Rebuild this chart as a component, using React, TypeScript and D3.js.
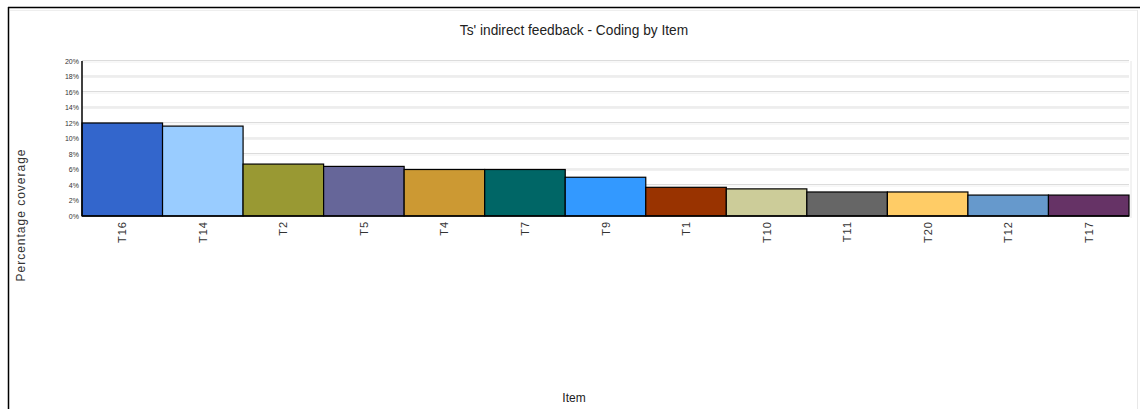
import React from "react";
import * as d3 from "d3";

const categories = ["T16", "T14", "T2", "T5", "T4", "T7", "T9", "T1", "T10", "T11", "T20", "T12", "T17"];
const values = [12.0, 11.6, 6.7, 6.4, 6.0, 6.0, 5.0, 3.7, 3.5, 3.1, 3.1, 2.7, 2.7];
const colors = ["#3366CC", "#99CCFF", "#999933", "#666699", "#CC9933", "#006666", "#3399FF", "#993300", "#CCCC99", "#666666", "#FFCC66", "#6699CC", "#663366"];
const yTicks = [0, 2, 4, 6, 8, 10, 12, 14, 16, 18, 20];

const W = 1140, H = 409;
const left = 82, right = 1129, top = 61, bottom = 216;

export default function App() {
  const x = d3.scaleBand<string>().domain(categories).range([left, right]).padding(0);
  const y = d3.scaleLinear().domain([0, 20]).range([bottom, top]);
  const font = "Arial, 'Liberation Sans', sans-serif";
  return (
    <svg width={W} height={H} style={{ position: "absolute", left: 0, top: 0, background: "#fff" }} fontFamily={font}>
      <line x1={8} x2={W} y1={7.5} y2={7.5} stroke="#000" strokeWidth={1.5} />
      <line x1={8.5} x2={8.5} y1={7} y2={H} stroke="#000" strokeWidth={1.5} />
      <line x1={1137.5} x2={1137.5} y1={10} y2={H} stroke="#e8e8e8" strokeWidth={1} />
      <line x1={10} x2={1137} y1={10.5} y2={10.5} stroke="#eeeeee" strokeWidth={1} />
      <text x={574} y={35} textAnchor="middle" fontSize={14} fill="#222" transform="translate(574,0) scale(0.98,1) translate(-574,0)">Ts' indirect feedback - Coding by Item</text>
      {yTicks.slice(1).map((t) => (
        <g key={t}>
          <line x1={left} x2={right} y1={y(t) - 0.5} y2={y(t) - 0.5} stroke="#dcdcdc" strokeWidth={1} />
          <line x1={left} x2={right} y1={y(t) + 1} y2={y(t) + 1} stroke="#f0f0f0" strokeWidth={1} />
        </g>
      ))}
      <line x1={right + 2} x2={right + 2} y1={top} y2={bottom + 2} stroke="#e6e6e6" />
      {categories.map((c, i) => (
        <rect key={c} x={x(c)!} y={y(values[i])} width={x.bandwidth()} height={bottom - y(values[i])} fill={colors[i]} stroke="#000" strokeWidth={1.2} />
      ))}
      <line x1={left} x2={left} y1={top} y2={bottom} stroke="#000" strokeWidth={1.5} />
      <line x1={left} x2={right} y1={bottom} y2={bottom} stroke="#000" strokeWidth={1.5} />
      {yTicks.map((t) => (
        <text key={t} x={left - 3} y={y(t) + 2.5} textAnchor="end" fontSize={7} fill="#333">{t}%</text>
      ))}
      {categories.map((c) => (
        <text key={c} transform={`translate(${x(c)! + x.bandwidth() / 2 + 4},${bottom + 5}) rotate(-90)`} textAnchor="end" fontSize={11} letterSpacing={1} fill="#333">{c}</text>
      ))}
      <text transform={`translate(25,215) rotate(-90)`} textAnchor="middle" fontSize={12} letterSpacing={1} fill="#333">Percentage coverage</text>
      <text x={574} y={402} textAnchor="middle" fontSize={12} fill="#222">Item</text>
    </svg>
  );
}
